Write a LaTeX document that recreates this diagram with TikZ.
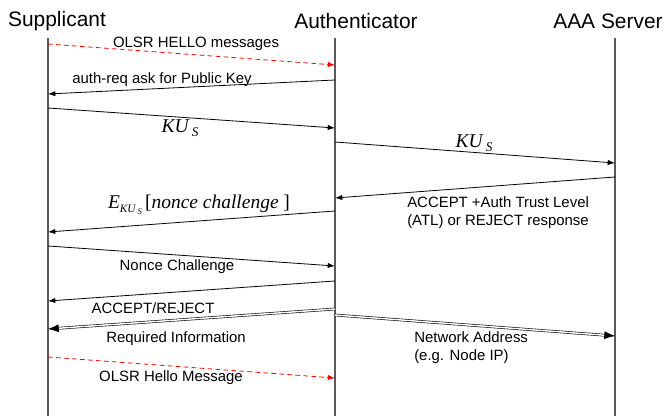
\documentclass[tikz,border=0pt]{standalone}
\usepackage{fontspec}
\setmainfont{Liberation Sans}
\newfontfamily\tmsfont{Liberation Serif}
\usetikzlibrary{arrows.meta}

% key notation, set like the Times formulas of the figure
\newcommand{\KUs}{{\tmsfont\itshape\fontsize{14.6}{16}\selectfont KU\,\raisebox{-0.45ex}{\fontsize{10}{10}\selectfont S}}}
\newcommand{\EKUs}{{\tmsfont\fontsize{14.6}{16}\selectfont\textit{E}\raisebox{-0.5ex}{\itshape\fontsize{8.5}{9}\selectfont KU\,\raisebox{-0.4ex}{\fontsize{6.5}{7}\selectfont S}}\,[\textit{nonce challenge} ]}}

\tikzset{
  lifeline/.style={draw=black!65, line width=0.8pt},
  msg/.style={-{Latex[length=5.5pt,width=4pt]}, line width=0.6pt},
  hello/.style={msg, red, dashed, dash pattern=on 3.5pt off 2.5pt},
  bigmsg/.style={double, double distance=1.1pt, line width=0.45pt, -{Latex[length=8pt,width=6pt]}},
  lbl/.style={font=\fontsize{11.2}{13.5}\selectfont, inner sep=0pt},
  actor/.style={font=\fontsize{15.7}{18}\selectfont, inner sep=0pt}
}

\begin{document}
\begin{tikzpicture}[x=0.75pt,y=-0.75pt]
    \useasboundingbox (0,0) rectangle (665,416);

    % actors and their lifelines
    \node[actor] (sup) at (57,21) {Supplicant};
    \node[actor] (auth) at (356,21) {Authenticator};
    \node[actor] (aaa) at (608,21) {AAA Server};

    \coordinate (supTop) at (48,38);   \coordinate (supEnd) at (48,416);
    \coordinate (authTop) at (335,38); \coordinate (authEnd) at (335,416);
    \coordinate (aaaTop) at (615,38);  \coordinate (aaaEnd) at (615,416);

    \draw[lifeline] (supTop) -- (supEnd);
    \draw[lifeline] (authTop) -- (authEnd);
    \draw[lifeline] (aaaTop) -- (aaaEnd);

    % message end points
    \coordinate (s1) at (48,44);   \coordinate (a1) at (335,65);
    \coordinate (a2) at (335,80);  \coordinate (s2) at (48,94);
    \coordinate (s3) at (48,108);  \coordinate (a3) at (335,128);
    \coordinate (a4) at (335,142); \coordinate (v4) at (615,163);
    \coordinate (v5) at (615,177); \coordinate (a5) at (335,198);
    \coordinate (a6) at (335,211); \coordinate (s6) at (48,232);
    \coordinate (s7) at (48,246);  \coordinate (a7) at (335,266);
    \coordinate (a8) at (335,281); \coordinate (s8) at (48,301);
    \coordinate (a9) at (335,309); \coordinate (s9) at (48,329);
    \coordinate (a10) at (335,315); \coordinate (v10) at (615,336);
    \coordinate (s11) at (48,357); \coordinate (a11) at (335,378);

    % messages
    \draw[hello] (s1) -- (a1);
    \draw[msg] (a2) -- (s2);
    \draw[msg] (s3) -- (a3);
    \draw[msg] (a4) -- (v4);
    \draw[msg] (v5) -- (a5);
    \draw[msg] (a6) -- (s6);
    \draw[msg] (s7) -- (a7);
    \draw[msg] (a8) -- (s8);
    \draw[bigmsg] (a9) -- (s9);
    \draw[bigmsg] (a10) -- (v10);
    \draw[hello] (s11) -- (a11);

    % labels
    \node[lbl] (l1) at (196,44) {OLSR HELLO messages};
    \node[lbl] (l2) at (162,80) {auth-req ask for Public Key};
    \node[inner sep=0pt] (l3) at (180,128) {\KUs};
    \node[inner sep=0pt] (l4) at (474,143) {\KUs};
    \node[lbl, align=left, anchor=west] (l5) at (407,213) {ACCEPT +Auth Trust Level\\(ATL) or REJECT response};
    \node[inner sep=0pt] (l6) at (199,205) {\EKUs};
    \node[lbl] (l7) at (177,267) {Nonce Challenge};
    \node[lbl] (l8) at (153,308) {ACCEPT/REJECT};
    \node[lbl] (l9) at (176,339) {Required Information};
    \node[lbl, align=left, anchor=west] (l10) at (414,348) {Network Address\\(e.g. Node IP)};
    \node[lbl] (l11) at (171,378) {OLSR Hello Message};
\end{tikzpicture}
\end{document}
